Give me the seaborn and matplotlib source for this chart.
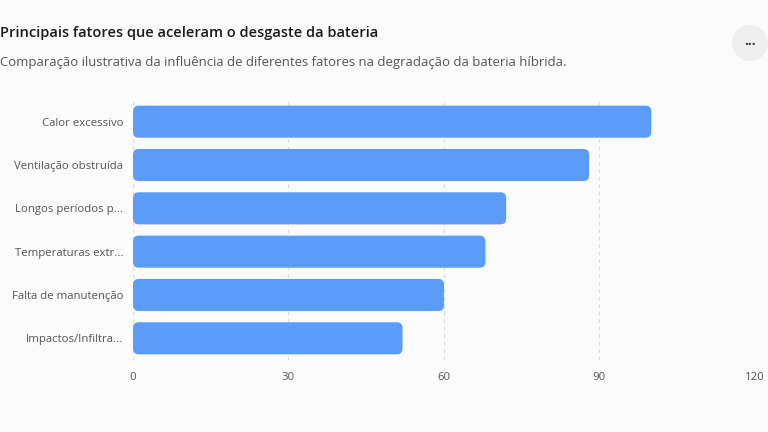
import matplotlib
matplotlib.use("Agg")
import matplotlib.pyplot as plt
from matplotlib.patches import FancyBboxPatch, Ellipse
import seaborn as sns
import pandas as pd

categories = ["Calor excessivo", "Ventilação obstruída", "Longos períodos p...",
              "Temperaturas extr...", "Falta de manutenção", "Impactos/Infiltra..."]
values = [100, 88, 72, 68, 60, 52]
x_ticks = [0, 30, 60, 90, 120]

title = "Principais fatores que aceleram o desgaste da bateria"
subtitle = "Comparação ilustrativa da influência de diferentes fatores na degradação da bateria híbrida."

bg = "#fbfbfb"
bar_color = "#5a9cf8"

sns.set_theme(style="white")
plt.rcParams["font.family"] = ["Open Sans", "DejaVu Sans"]

df = pd.DataFrame({"fator": categories, "valor": values})

fig = plt.figure(figsize=(7.68, 4.32), dpi=100, facecolor=bg)
ax = fig.add_axes([0.1732, 0.1667, 0.8098, 0.6018], facecolor=bg)

sns.barplot(data=df, y="fator", x="valor", color=bar_color, width=0.74,
            saturation=1, ax=ax, zorder=3)

# swap plain rectangles for rounded ones
aspect = (1 / 43.3) / (1 / 5.183)
for p in list(ax.patches):
    x0, y0 = p.get_x(), p.get_y()
    w, h = p.get_width(), p.get_height()
    p.remove()
    ax.add_patch(FancyBboxPatch((x0, y0), w, h,
                                boxstyle="round,pad=0,rounding_size=1.1",
                                mutation_aspect=aspect,
                                facecolor=bar_color, edgecolor="none", zorder=3))

ax.set_xlim(0, 120)
ax.set_ylim(5.5, -0.5)
ax.set_xticks(x_ticks)
ax.set_xticklabels([str(t) for t in x_ticks])
for t in x_ticks:
    ax.axvline(t, color="#dedede", lw=0.9, ls=(0, (3, 3)), zorder=1)

for s in ax.spines.values():
    s.set_visible(False)
ax.set_xlabel("")
ax.set_ylabel("")
ax.tick_params(axis="both", length=0, colors="#555555", labelsize=8.2)
ax.tick_params(axis="y", pad=7)
ax.tick_params(axis="x", pad=9)

fig.text(0.0, 0.924, title, fontsize=10.5, fontweight="semibold", color="#1a1a1a",
         ha="left", va="center")
fig.text(0.0, 0.856, subtitle, fontsize=9.45, color="#555555",
         ha="left", va="center")

# options button
fig.patches.append(Ellipse((750 / 768, 1 - 43 / 432), 36 / 768, 36 / 432,
                           transform=fig.transFigure, facecolor="#efefef",
                           edgecolor="none"))
fig.text(750 / 768, 1 - 41 / 432, "...", fontsize=10, color="#333333",
         ha="center", va="center", fontweight="bold")

fig.savefig("out.png", dpi=100, facecolor=bg)
